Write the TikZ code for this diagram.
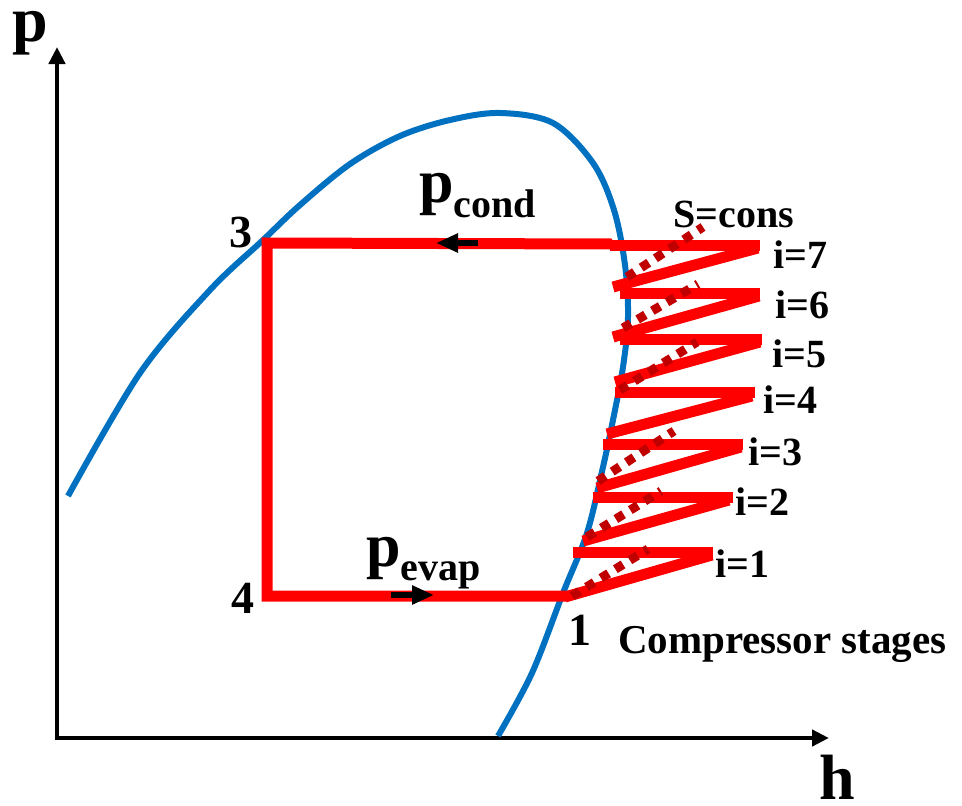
\documentclass[tikz,border=0pt]{standalone}
\usepackage{fontspec}
\setmainfont{Liberation Serif}
\usetikzlibrary{arrows.meta}
\definecolor{satblue}{HTML}{0070C0}
\definecolor{cycred}{HTML}{FF0000}
\definecolor{isored}{HTML}{C00000}
\tikzset{
  axis/.style={line width=4.5pt, -{Triangle[length=17pt,width=16pt]}},
  sat/.style={line width=6pt, satblue},
  cyc/.style={line width=11pt, cycred, line cap=butt, line join=miter},
  stage/.style={line width=11pt, cycred, line cap=butt},
  iso/.style={line width=9pt, isored, dash pattern=on 9pt off 8pt, line cap=butt},
  flow/.style={line width=6pt, black, -{Triangle[length=22pt,width=18pt]}},
  lbl/.style={inner sep=0pt, anchor=base west, font=\bfseries\fontsize{40}{40}\selectfont},
  ptl/.style={inner sep=0pt, anchor=base west, font=\bfseries\fontsize{46}{46}\selectfont},
  axl/.style={inner sep=0pt, anchor=base west, font=\bfseries\fontsize{64}{64}\selectfont},
}
\begin{document}
\begin{tikzpicture}[x=1pt,y=-1pt]
\useasboundingbox (0,0) rectangle (962,806);
% axes
\coordinate (O) at (57,738);
\coordinate (ytop) at (57,47);
\coordinate (xend) at (829,738);
\draw[axis] (57,740) -- (ytop);
\draw[axis] (55,738) -- (xend);
\node[axl, text height=30pt, text depth=14pt] (plab) at (12,41) {p};
\node[axl, text height=44pt, text depth=0pt] (hlab) at (819,799) {h};
% saturation dome
\draw[sat] plot[smooth, tension=0.55] coordinates {(68,496) (140,373) (210,290) (262,241) (300,205) (350,164) (400,136) (450,120) (500,113) (553,123) (593,163) (614,210) (625,265) (628,317) (623,367) (613,420) (603,467) (587,533) (563,593) (532,673) (498,736)};
% cycle
\coordinate (c1) at (568,596);
\coordinate (c3) at (267,243);
\coordinate (c4) at (267,596);
\coordinate (ctop) at (612,244);
\draw[cyc] (ctop) -- (c3) -- (c4) -- (c1);
% compressor stages
\coordinate (d1a) at (565,597); \coordinate (d1b) at (712,555);
\coordinate (h1a) at (713,552); \coordinate (h1b) at (573,552);
\coordinate (d2a) at (583,541); \coordinate (d2b) at (729,500);
\coordinate (h2a) at (733,497); \coordinate (h2b) at (593,497);
\coordinate (d3a) at (597,488); \coordinate (d3b) at (741,447);
\coordinate (h3a) at (743,444); \coordinate (h3b) at (603,444);
\coordinate (d4a) at (607,434); \coordinate (d4b) at (752,396);
\coordinate (h4a) at (755,392); \coordinate (h4b) at (615,392);
\coordinate (d5a) at (615,382); \coordinate (d5b) at (760,342);
\coordinate (h5a) at (762,339); \coordinate (h5b) at (620,339);
\coordinate (d6a) at (613,337); \coordinate (d6b) at (759,296);
\coordinate (h6a) at (760,293); \coordinate (h6b) at (620,293);
\coordinate (d7a) at (613,287); \coordinate (d7b) at (758,248);
\coordinate (h7a) at (760,245); \coordinate (h7b) at (610,245);
\foreach \k in {1,...,7}{
  \draw[stage] (d\k a) -- (d\k b);
  \draw[stage] (h\k a) -- (h\k b);
}
% isentropic lines
\coordinate (s1a) at (572,596); \coordinate (s1b) at (648,549);
\coordinate (s2a) at (587,537); \coordinate (s2b) at (661,491);
\coordinate (s3a) at (598,481); \coordinate (s3b) at (674,431);
\coordinate (s4a) at (620,390); \coordinate (s4b) at (697,342);
\coordinate (s5a) at (623,328); \coordinate (s5b) at (698,284);
\coordinate (s6a) at (627,277); \coordinate (s6b) at (703,227);
\foreach \k in {1,...,6}{
  \draw[iso] (s\k a) -- (s\k b);
}
% flow arrows
\coordinate (fa1) at (478,243); \coordinate (fa2) at (436,243);
\coordinate (fb1) at (391,595); \coordinate (fb2) at (434,595);
\draw[flow] (fa1) -- (fa2);
\draw[flow] (fb1) -- (fb2);
% point labels
\node[ptl] (n3) at (229,247) {3};
\node[ptl] (n4) at (231,613) {4};
\node[ptl] (n1) at (568,645) {1};
% pressure labels
\node[inner sep=0pt, anchor=base west] (pcond) at (419,202) {\bfseries\fontsize{62}{62}\selectfont p\raisebox{-15pt}{\fontsize{40}{40}\selectfont cond}};
\node[inner sep=0pt, anchor=base west] (pevap) at (366,566) {\bfseries\fontsize{62}{62}\selectfont p\raisebox{-14pt}{\fontsize{40}{40}\selectfont evap}};
% stage labels
\node[lbl] (scons) at (673,227) {S=cons};
\node[lbl] (i7) at (773,268) {i=7};
\node[lbl] (i6) at (775,318) {i=6};
\node[lbl] (i5) at (772,367) {i=5};
\node[lbl] (i4) at (763,413) {i=4};
\node[lbl] (i3) at (748,465) {i=3};
\node[lbl] (i2) at (735,515) {i=2};
\node[lbl] (i1) at (715,577) {i=1};
\node[lbl, font=\bfseries\fontsize{41}{41}\selectfont] (comp) at (618,653) {Compressor stages};
\end{tikzpicture}
\end{document}
